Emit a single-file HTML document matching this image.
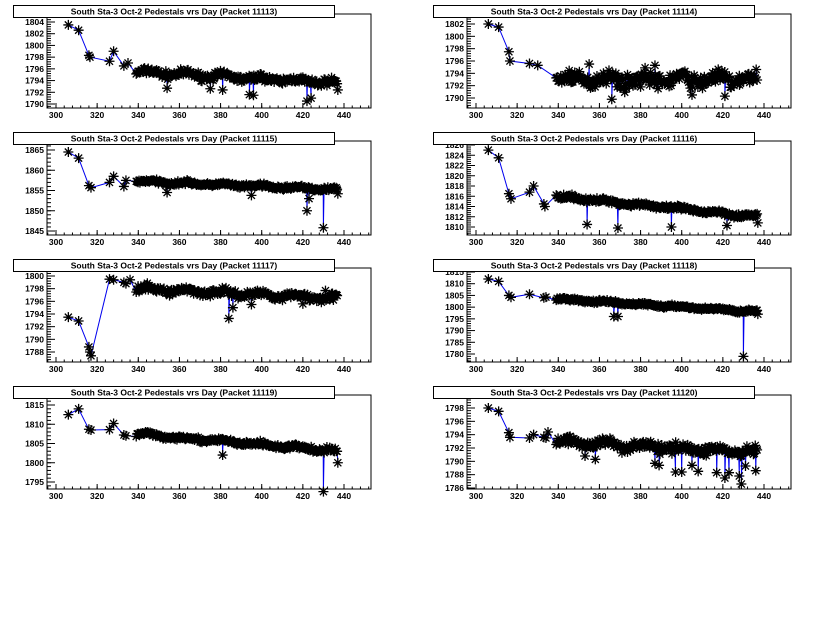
<!DOCTYPE html>
<html><head><meta charset="utf-8"><style>
html,body{margin:0;padding:0;background:#fff;width:840px;height:635px;overflow:hidden}
svg text{font-family:"Liberation Sans",Arial,sans-serif;font-weight:bold;font-size:8.5px;fill:#000}
</style></head><body>
<svg id="s" width="840" height="635" xmlns="http://www.w3.org/2000/svg"></svg>
<script>
var S=document.getElementById('s');var out='';
var seed=7;function rnd(){seed=(seed*16807)%2147483647;return seed/2147483647;}
function gauss(){return (rnd()+rnd()+rnd()-1.5)/1.5;}
var panels=[
{n:11113,c:0,r:0,yt:[1790,1804,2],ya:[1804,22,1790,104],head:[[306,1803.5],[311,1802.6],[316,1798.3],[316.5,1798],[326,1797.3],[328,1799],[333,1796.5],[335,1797]],a:1795.5,b:1793.6,nz:0.5,dip:[[354,1792.7],[375,1792.6],[381,1792.4],[394,1791.6],[396,1791.5],[422,1790.5],[424,1791],[437,1792.4]]},
{n:11114,c:1,r:0,yt:[1790,1802,2],ya:[1802,24,1790,98],head:[[306,1802],[311,1801.5],[316,1797.5],[316.5,1796],[326,1795.6],[330,1795.3]],a:1793,b:1793,nz:1.0,dip:[[355,1795.5],[366,1789.8],[368,1794],[380,1791.8],[387,1795.3],[405,1790.5],[421,1790.3],[428,1793.6]]},
{n:11115,c:0,r:1,yt:[1845,1865,5],ya:[1865,150,1845,231],head:[[306,1864.5],[311,1863],[316,1856.2],[317,1855.7],[326,1857],[328,1858.5],[333,1856],[334,1857.5]],a:1857.3,b:1855.2,nz:0.4,dip:[[354,1854.5],[395,1853.8],[422,1850],[423,1853],[430,1845.8],[437,1854.2]]},
{n:11116,c:1,r:1,yt:[1810,1826,2],ya:[1826,145,1810,227],head:[[306,1825],[311,1823.5],[316,1816.5],[317,1815.5],[326,1816.8],[328,1818],[333,1814.5],[333.5,1814]],a:1816,b:1812,nz:0.35,dip:[[354,1810.5],[369,1809.8],[395,1810],[422,1810.3],[437,1810.8]]},
{n:11117,c:0,r:2,yt:[1788,1800,2],ya:[1800,276,1788,352],head:[[306,1793.5],[311,1792.9],[316,1788.8],[316.5,1788],[317,1787.4],[326,1799.5],[328,1799.4],[333,1799],[334,1798.8],[336,1799.4]],a:1798,b:1796.5,nz:0.45,dip:[[384,1793.3],[386,1795],[395,1795.5],[420,1795.6],[431,1797.7]]},
{n:11118,c:1,r:2,yt:[1780,1815,5],ya:[1815,272,1780,354],head:[[306,1812],[311,1811],[316,1805],[317,1804.2],[326,1805.5],[333,1804],[334,1804.3]],a:1803.5,b:1798,nz:0.5,dip:[[367,1796],[369,1796],[430,1779],[437,1797]]},
{n:11119,c:0,r:3,yt:[1795,1815,5],ya:[1815,405,1795,482],head:[[306,1812.5],[311,1814],[316,1808.7],[317,1808.5],[326,1808.6],[328,1810.2],[333,1807.2],[334,1807]],a:1807.5,b:1803,nz:0.5,dip:[[381,1802],[430,1792.5],[437,1800]]},
{n:11120,c:1,r:3,yt:[1786,1798,2],ya:[1798,408,1786,488],head:[[306,1798],[311,1797.5],[316,1794.3],[316.5,1793.6],[326,1793.5],[328,1794],[333,1793.6],[334,1793.5],[335,1794.4]],a:1793,b:1791.3,nz:0.6,dip:[[353,1790.8],[358,1790.3],[387,1789.7],[389,1789.4],[397,1788.4],[400,1788.4],[405,1789.4],[408,1788.5],[417,1788.3],[421,1787.5],[423,1788.3],[428,1787.8],[429,1786.6],[431,1789.3],[436,1788.6]]}
];
var rows=[5,132,259,386];
function star(x,y){var r=5,d=r*0.707;return 'M'+(x-r)+' '+y+'h'+(2*r)+'M'+x+' '+(y-r)+'v'+(2*r)+'M'+(x-d)+' '+(y-d)+'l'+(2*d)+' '+(2*d)+'M'+(x-d)+' '+(y+d)+'l'+(2*d)+' '+(-2*d);}
panels.forEach(function(p){
 var ox=p.c*420, ty=rows[p.r];
 var L=ox+47,R=ox+371,T=ty+9,B=ty+103;
 var X=function(v){return ox+56+(v-300)*(288/140);};
 var Y=function(v){return p.ya[1]+(v-p.ya[0])*(p.ya[3]-p.ya[1])/(p.ya[2]-p.ya[0]);};
 out+='<rect x="'+L+'" y="'+T+'" width="'+(R-L)+'" height="'+(B-T)+'" fill="none" stroke="#000" stroke-width="1"/>';
 for(var v=300;v<=440;v+=20){var x=X(v);out+='<line x1="'+x+'" y1="'+B+'" x2="'+x+'" y2="'+(B-5)+'" stroke="#000"/>';out+='<text x="'+x+'" y="'+(B+10)+'" text-anchor="middle">'+v+'</text>';}
 for(var v=296;v<=456;v+=4){var x=X(v);if(x>L&&x<R)out+='<line x1="'+x+'" y1="'+B+'" x2="'+x+'" y2="'+(B-2.5)+'" stroke="#000"/>';}
 var st=p.yt[2];
 for(var v=p.yt[0];v<=p.yt[1];v+=st){var y=Y(v);out+='<line x1="'+L+'" y1="'+y+'" x2="'+(L+8)+'" y2="'+y+'" stroke="#000"/>';out+='<text x="'+(L-3)+'" y="'+(y+3)+'" text-anchor="end">'+v+'</text>';}
 for(var v=p.yt[0]-st;v<=p.yt[1]+st;v+=st/5){var y=Y(v);if(y>T&&y<B)out+='<line x1="'+L+'" y1="'+y+'" x2="'+(L+4)+'" y2="'+y+'" stroke="#000"/>';}
 var pts=p.head.slice();
 for(var d=339;d<=437;d+=0.45){var t=(d-339)/98;var wob=Math.sin(d*0.35)*p.nz*0.6;var v=p.a+(p.b-p.a)*t+wob+gauss()*p.nz*1.7;pts.push([d,v]);}
 p.dip.forEach(function(q){pts.push(q);});
 pts.sort(function(a,b){return a[0]-b[0];});
 var pl=pts.map(function(q){return X(q[0]).toFixed(1)+','+Y(q[1]).toFixed(1);}).join(' ');
 out+='<polyline points="'+pl+'" fill="none" stroke="#0000ee" stroke-width="1"/>';
 var sp='';pts.forEach(function(q){sp+=star(X(q[0]),Y(q[1]));});
 out+='<path d="'+sp+'" stroke="#000" stroke-width="1.3" fill="none"/>';
 out+='<rect x="'+(ox+13.5)+'" y="'+(ty+0.5)+'" width="321" height="12" fill="#fff" stroke="#000"/>';
 out+='<text x="'+(ox+174)+'" y="'+(ty+9.5)+'" text-anchor="middle">South Sta-3 Oct-2 Pedestals vrs Day (Packet '+p.n+')</text>';
});
S.innerHTML=out;
</script>
</body></html>
